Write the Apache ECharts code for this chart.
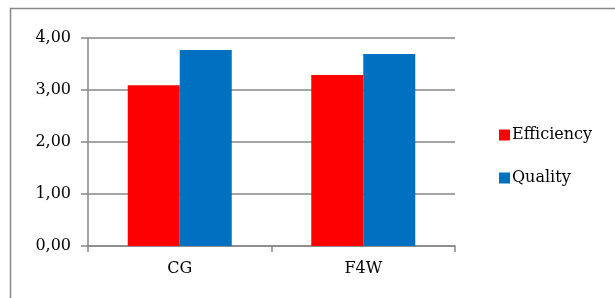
<!DOCTYPE html>
<html>
<head>
<meta charset="utf-8">
<script src="https://cdn.jsdelivr.net/npm/echarts@6.0.0/dist/echarts.min.js"></script>
<style>
  html, body { margin: 0; padding: 0; background: #fff; }
  #chart { width: 615px; height: 298px; }
</style>
</head>
<body>
<div id="chart"></div>
<script>
const categories = ["CG", "F4W"];
const efficiency = [3.09, 3.29];
const quality = [3.77, 3.69];

const fontFamily = "'DejaVu Serif', 'Liberation Serif', serif";
const gray = "#878787";

const chart = echarts.init(document.getElementById("chart"));

chart.setOption({
  animation: false,
  textStyle: { fontFamily: fontFamily },
  graphic: [{
    type: "rect",
    shape: { x: 10.5, y: 8.5, width: 640, height: 320 },
    style: { fill: "none", stroke: gray, lineWidth: 1.5 },
    silent: true
  }],
  grid: { left: 88, right: 160, top: 38, bottom: 52, containLabel: false },
  legend: {
    orient: "vertical",
    left: 494,
    top: 122,
    itemWidth: 11,
    itemHeight: 11,
    itemGap: 27,
    icon: "rect",
    textStyle: { fontFamily: fontFamily, fontSize: 16, color: "#000", padding: [0, 0, 0, -3] },
    data: ["Efficiency", "Quality"]
  },
  xAxis: {
    type: "category",
    data: categories,
    axisLine: { lineStyle: { color: gray, width: 1.5 } },
    axisTick: { show: true, length: 6, lineStyle: { color: gray, width: 1.5 } },
    axisLabel: { color: "#000", fontSize: 16, margin: 15, fontFamily: fontFamily }
  },
  yAxis: {
    type: "value",
    min: 0,
    max: 4,
    interval: 1,
    axisLine: { show: true, lineStyle: { color: gray, width: 1.5 } },
    axisTick: { show: true, length: 7, lineStyle: { color: gray, width: 1.5 } },
    splitLine: { lineStyle: { color: gray, width: 1.5 } },
    axisLabel: {
      color: "#000",
      fontSize: 16,
      margin: 17,
      fontFamily: fontFamily,
      formatter: v => v.toFixed(2).replace(".", ",")
    }
  },
  series: [
    {
      name: "Efficiency",
      type: "bar",
      data: efficiency,
      barWidth: 52,
      barGap: "0%",
      itemStyle: { color: "#ff0000" }
    },
    {
      name: "Quality",
      type: "bar",
      data: quality,
      barWidth: 52,
      itemStyle: { color: "#0070c0" }
    }
  ]
});
</script>
</body>
</html>
